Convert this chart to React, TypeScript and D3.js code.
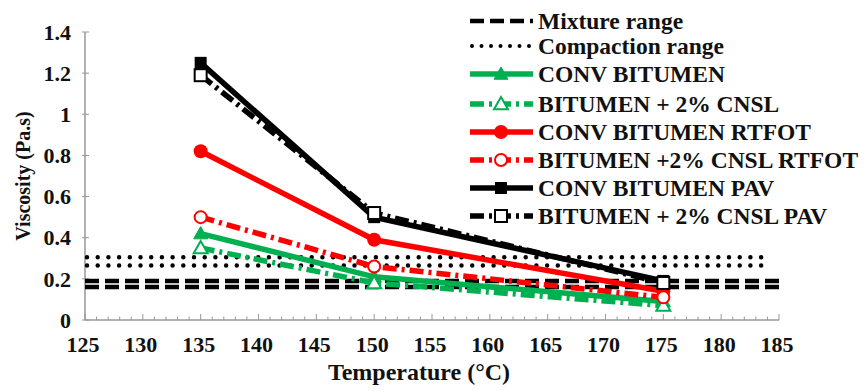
import React from "react";
import * as d3 from "d3";

const temps = [135, 150, 175];
const convBitumen = [0.42, 0.21, 0.09];
const cnslBitumen = [0.35, 0.18, 0.07];
const convRtfot = [0.82, 0.39, 0.14];
const cnslRtfot = [0.5, 0.26, 0.11];
const convPav = [1.25, 0.5, 0.19];
const cnslPav = [1.19, 0.52, 0.18];

const mixtureRange = [0.16, 0.19];
const compactionRange = [0.265, 0.305];

const xTicks = [125, 130, 135, 140, 145, 150, 155, 160, 165, 170, 175, 180, 185];
const yTicks = [0, 0.2, 0.4, 0.6, 0.8, 1, 1.2, 1.4];

const GREEN = "#00B050";
const RED = "#FF0000";
const BLACK = "#000";
const DASH_SERIES = "14 5 3 5";

const series = [
  { name: "CONV BITUMEN", values: convBitumen, color: GREEN, dashed: false, marker: "triangle", filled: true },
  { name: "BITUMEN + 2% CNSL", values: cnslBitumen, color: GREEN, dashed: true, marker: "triangle", filled: false },
  { name: "CONV BITUMEN RTFOT", values: convRtfot, color: RED, dashed: false, marker: "circle", filled: true },
  { name: "BITUMEN +2% CNSL RTFOT", values: cnslRtfot, color: RED, dashed: true, marker: "circle", filled: false },
  { name: "CONV BITUMEN PAV", values: convPav, color: BLACK, dashed: false, marker: "square", filled: true },
  { name: "BITUMEN + 2% CNSL PAV", values: cnslPav, color: BLACK, dashed: true, marker: "square", filled: false },
];

const FONT = '"Liberation Serif", "Times New Roman", Times, "DejaVu Serif", serif';

function Marker({ type, x, y, color, filled }: any) {
  const fill = filled ? color : "#fff";
  if (type === "triangle") {
    const s = 7;
    const pts = `${x},${y - s} ${x - s},${y + s * 0.75} ${x + s},${y + s * 0.75}`;
    return <polygon points={pts} fill={fill} stroke={color} strokeWidth={filled ? 1 : 2} />;
  }
  if (type === "circle") {
    return <circle cx={x} cy={y} r={filled ? 7 : 6} fill={fill} stroke={color} strokeWidth={filled ? 0 : 2} />;
  }
  const h = 6;
  return <rect x={x - h} y={y - h} width={h * 2} height={h * 2} fill={fill} stroke={color} strokeWidth={filled ? 0 : 2} />;
}

export default function App() {
  const width = 865;
  const height = 391;
  const x = d3.scaleLinear().domain([125, 185]).range([85, 779]);
  const y = d3.scaleLinear().domain([0, 1.4]).range([320, 32]);
  const line = d3
    .line<number>()
    .x((_, i) => x(temps[i]))
    .y((d) => y(d));

  const minor = d3.range(125, 186, 1);
  const legendX = 470;
  const legendRows = [21, 46, 74, 104, 132, 160, 188, 216];
  const textStyle = { fontFamily: FONT, fontWeight: 700 } as React.CSSProperties;

  return (
    <svg
      width={width}
      height={height}
      style={{ position: "absolute", left: 0, top: 0, background: "#fff" }}
    >
      {/* axes */}
      <line x1={x(125)} x2={x(185)} y1={y(0)} y2={y(0)} stroke="#999" strokeWidth={1.5} />
      <line x1={x(125)} x2={x(125)} y1={y(0)} y2={y(1.4)} stroke="#999" strokeWidth={1.5} />
      {minor.map((t) => (
        <line
          key={t}
          x1={x(t)}
          x2={x(t)}
          y1={y(0)}
          y2={y(0) - (t % 5 === 0 ? 6 : 3.5)}
          stroke="#999"
          strokeWidth={1}
        />
      ))}
      {yTicks.map((t) => (
        <line key={t} x1={x(125) - 3} x2={x(125) + 4} y1={y(t)} y2={y(t)} stroke="#999" strokeWidth={1} />
      ))}

      <g style={textStyle} fill="#111">
        {/* tick labels */}
        {yTicks.map((t) => (
          <text key={t} x={71} y={y(t)} dy="0.35em" textAnchor="end" fontSize={22}>
            {t === 0 || t === 1 ? String(t) : t.toFixed(1)}
          </text>
        ))}
        {xTicks.map((t) => (
          <text key={t} x={x(t) - 2} y={352} textAnchor="middle" fontSize={22}>
            {t}
          </text>
        ))}

        <text x={419} y={380} textAnchor="middle" fontSize={24}>
          Temperature (°C)
        </text>
        <text transform="translate(30,176) rotate(-90)" textAnchor="middle" fontSize={20}>
          Viscosity (Pa.s)
        </text>
      </g>

      {/* ranges */}
      {mixtureRange.map((v) => (
        <line key={"m" + v} x1={x(125)} x2={x(185)} y1={y(v)} y2={y(v)} stroke="#000" strokeWidth={4.5} strokeDasharray="14 6" />
      ))}
      {compactionRange.map((v) => (
        <line
          key={"c" + v}
          x1={x(125) + 2}
          x2={x(184.2)}
          y1={y(v)}
          y2={y(v)}
          stroke="#000"
          strokeWidth={4.5}
          strokeLinecap="round"
          strokeDasharray="0 10.7"
        />
      ))}

      {/* series */}
      {series.map((s) => (
        <g key={s.name}>
          <path
            d={line(s.values) || ""}
            fill="none"
            stroke={s.color}
            strokeWidth={5.5}
            strokeDasharray={s.dashed ? DASH_SERIES : undefined}
          />
          {s.values.map((v, i) => (
            <Marker key={i} type={s.marker} x={x(temps[i])} y={y(v)} color={s.color} filled={s.filled} />
          ))}
        </g>
      ))}

      {/* legend */}
      <g>
        <line x1={legendX} x2={legendX + 63} y1={legendRows[0]} y2={legendRows[0]} stroke="#000" strokeWidth={4.5} strokeDasharray="14 6" />
        <text x={legendX + 68} y={legendRows[0]} dy="0.35em" fontSize={23.5} fill="#111" style={textStyle}>Mixture range</text>
        <line x1={legendX + 2} x2={legendX + 63} y1={legendRows[1]} y2={legendRows[1]} stroke="#000" strokeWidth={4} strokeLinecap="round" strokeDasharray="0 9.5" />
        <text x={legendX + 68} y={legendRows[1]} dy="0.35em" fontSize={23.5} fill="#111" style={textStyle}>Compaction range</text>
        {series.map((s, i) => {
          const ry = legendRows[i + 2];
          return (
            <g key={s.name}>
              <line
                x1={legendX}
                x2={legendX + 63}
                y1={ry}
                y2={ry}
                stroke={s.color}
                strokeWidth={5.5}
                strokeDasharray={s.dashed ? DASH_SERIES : undefined}
              />
              <Marker type={s.marker} x={legendX + 31} y={ry} color={s.color} filled={s.filled} />
              <text x={legendX + 68} y={ry} dy="0.35em" fontSize={23.5} fill="#111" style={textStyle}>
                {s.name}
              </text>
            </g>
          );
        })}
      </g>
    </svg>
  );
}
